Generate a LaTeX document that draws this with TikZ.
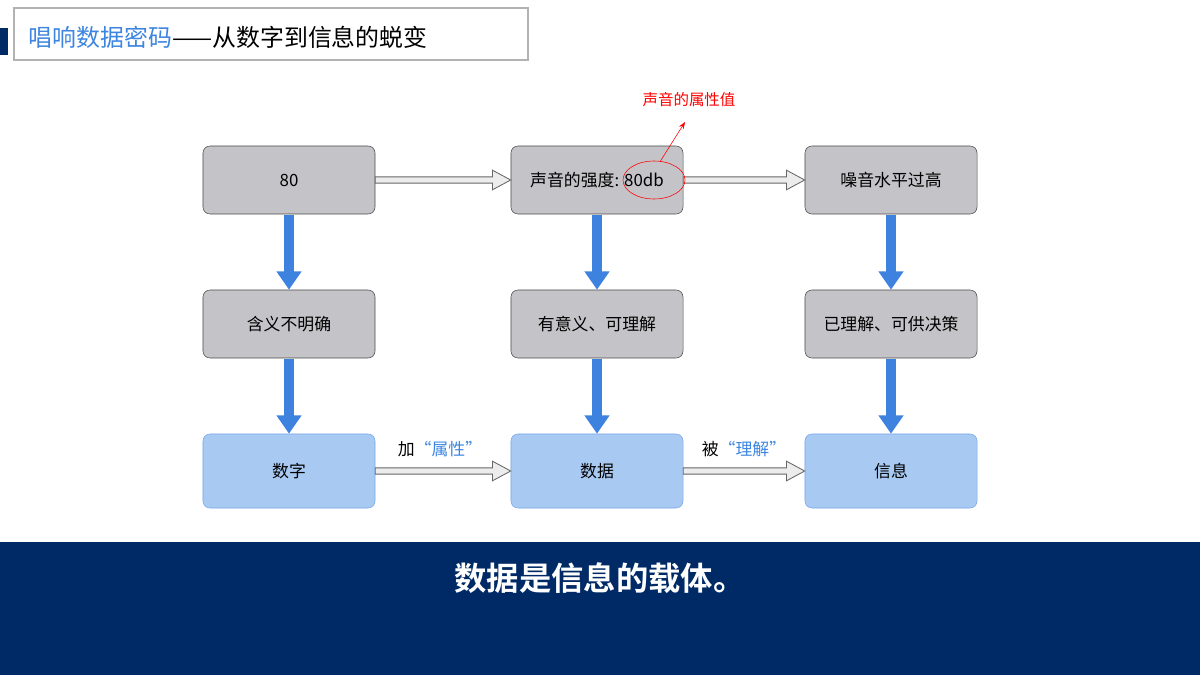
\documentclass[tikz,border=0pt]{standalone}
\usepackage{fontspec}
\setmainfont{Noto Sans CJK SC}[BoldFont={Noto Sans CJK SC Bold}]
\usetikzlibrary{arrows.meta,calc,shapes.geometric}
\definecolor{navy}{HTML}{002A66}
\definecolor{titleblue}{HTML}{3D85E0}
\definecolor{boxgray}{HTML}{C4C4C8}
\definecolor{boxblue}{HTML}{A7C9F2}
\definecolor{arrblue}{HTML}{3E82DF}

\tikzset{
  box/.style={draw=black!70, rounded corners=5pt, minimum width=4.3cm, minimum height=1.7cm, font=\fontsize{12}{14}\selectfont, inner sep=0pt},
  graybox/.style={box, fill=boxgray},
  bluebox/.style={box, fill=boxblue, draw=arrblue!70, minimum height=1.85cm},
  down/.style={draw=arrblue, line width=7pt, -{Triangle[width=17pt,length=13pt]}, shorten <=0.5pt},
}
% hollow gray arrow between two nodes
\newcommand{\hollowarrow}[2]{%
  \path let \p1=(#1.east), \p2=(#2.west) in
    [fill=gray!15, draw=gray!80!black, line width=0.6pt]
    (\x1,\y1+2.2pt) -- (\x2-13pt,\y1+2.2pt) -- (\x2-13pt,\y1+7pt) -- (\x2,\y1)
    -- (\x2-13pt,\y1-7pt) -- (\x2-13pt,\y1-2.2pt) -- (\x1,\y1-2.2pt) -- cycle;}

\begin{document}
\begin{tikzpicture}[x=0.025cm, y=-0.025cm]
\useasboundingbox (0,0) rectangle (1200,675);

%------------------ TITLE ------------------%
\fill[navy] (0,28) rectangle (8,55);
\draw[black!30, line width=0.8pt] (14,8) rectangle (528,60);
\node[anchor=west, font=\fontsize{17}{20}\selectfont] (title) at (24,37)
  {\textcolor{titleblue}{唱响数据密码}——从数字到信息的蜕变};

%------------------ BOXES ------------------%
\node[graybox] (num) at (289,180) {80};
\node[graybox] (val) at (597,180) {声音的强度: 80db};
\node[graybox] (noise) at (891,180) {噪音水平过高};

\node[graybox] (vague) at (289,324) {含义不明确};
\node[graybox] (mean) at (597,324) {有意义、可理解};
\node[graybox] (decide) at (891,324) {已理解、可供决策};

\node[bluebox] (digit) at (289,471) {数字};
\node[bluebox] (data) at (597,471) {数据};
\node[bluebox] (info) at (891,471) {信息};

%------------------ CONNECTORS ------------------%
\foreach \a/\b in {num/vague, vague/digit, val/mean, mean/data, noise/decide, decide/info}
  \draw[down] (\a.south) -- (\b.north);

\hollowarrow{num}{val}
\hollowarrow{val}{noise}
\hollowarrow{digit}{data}
\hollowarrow{data}{info}

\node[font=\fontsize{12}{14}\selectfont] (addattr) at (440,449) {加\textcolor{titleblue}{“属性”}};
\node[font=\fontsize{12}{14}\selectfont] (understood) at (744,449) {被\textcolor{titleblue}{“理解”}};

%------------------ ANNOTATION ------------------%
\node[draw=red, ellipse, minimum width=1.55cm, minimum height=0.95cm] (db) at (654,180) {};
\coordinate (tip) at (685,122);
\draw[red, -{Stealth[length=5pt]}] (db.north) ++(6,1) -- (tip);
\node[red, font=\fontsize{11}{13}\selectfont] (attr) at (689,100) {声音的属性值};

%------------------ BOTTOM BAND ------------------%
\fill[navy] (0,542) rectangle (1200,675);
\node[white, font=\bfseries\fontsize{23}{26}\selectfont] (motto) at (600,578) {数据是信息的载体。};

\end{tikzpicture}
\end{document}
